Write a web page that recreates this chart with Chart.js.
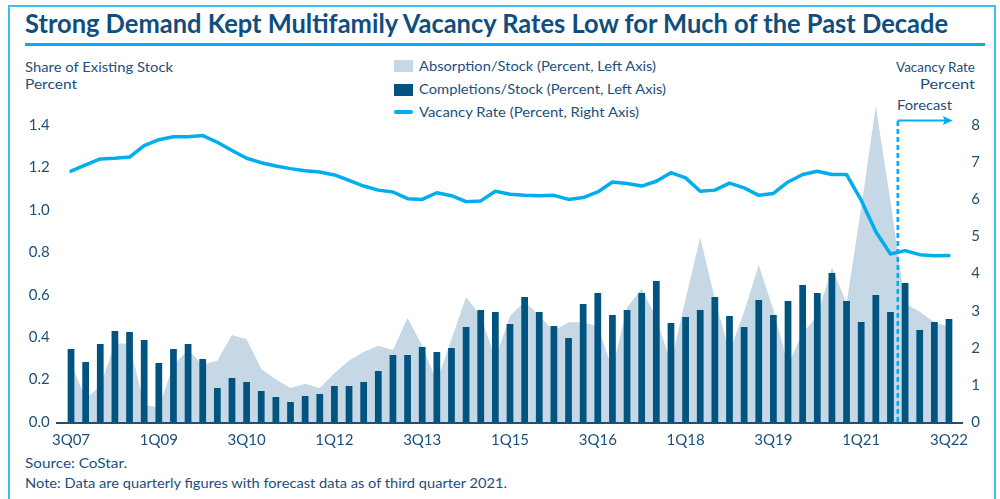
<!DOCTYPE html>
<html><head><meta charset="utf-8">
<script src="https://cdn.jsdelivr.net/npm/chart.js@4"></script>
<style>
html,body{margin:0;padding:0;background:#fff;width:1000px;height:499px;overflow:hidden;font-family:Lato,"Noto Sans",sans-serif;}
#c{position:absolute;left:0;top:0;width:1000px;height:499px;}
.t{position:absolute;white-space:nowrap;color:#1d4f7c;font-size:14px;line-height:16px;height:16px;transform-origin:0 50%;}
#frame{position:absolute;left:8px;top:5px;width:988px;height:520px;border:2.5px solid #3cbdef;border-bottom:none;box-sizing:border-box;}
#rule{position:absolute;left:25px;top:43px;width:960px;height:3px;background:#00aeef;}
#title{font-weight:bold;font-size:26px;line-height:30px;height:30px;color:#0f4e7e;}
.sw{position:absolute;}
</style></head><body>
<div id="frame"></div>
<div id="title" class="t" data-w="923" style="left:25px;top:8px;">Strong Demand Kept Multifamily Vacancy Rates Low for Much of the Past Decade</div>
<div id="rule"></div>
<div class="t" data-w="148" style="left:25px;top:59px;">Share of Existing Stock</div>
<div class="t" data-w="52" style="left:25px;top:76px;">Percent</div>
<div class="t" data-w="79" style="left:896px;top:59px;">Vacancy Rate</div>
<div class="t" data-w="55" style="left:920px;top:76px;">Percent</div>
<div class="t" data-w="55" style="left:897px;top:97px;">Forecast</div>
<div class="sw" style="left:394px;top:60px;width:19px;height:12px;background:#c6d7e6;"></div>
<div class="sw" style="left:394px;top:84px;width:19px;height:12px;background:#00547f;"></div>
<div class="sw" style="left:394px;top:110px;width:19px;height:4px;border-radius:2px;background:#00aeef;"></div>
<div class="t" data-w="237" style="left:419px;top:58px;">Absorption/Stock (Percent, Left Axis)</div>
<div class="t" data-w="247" style="left:419px;top:81px;">Completions/Stock (Percent, Left Axis)</div>
<div class="t" data-w="220" style="left:419px;top:104px;">Vacancy Rate (Percent, Right Axis)</div>
<div class="t" data-w="102" style="left:25px;top:455px;">Source: CoStar.</div>
<div class="t" data-w="482" style="left:25px;top:475px;">Note: Data are quarterly figures with forecast data as of third quarter 2021.</div>
<canvas id="c" width="1000" height="499"></canvas>
<script>
const categories = ['3Q07','4Q07',
 '1Q08','2Q08','3Q08','4Q08','1Q09','2Q09','3Q09','4Q09','1Q10','2Q10','3Q10','4Q10',
 '1Q11','2Q11','3Q11','4Q11','1Q12','2Q12','3Q12','4Q12','1Q13','2Q13','3Q13','4Q13',
 '1Q14','2Q14','3Q14','4Q14','1Q15','2Q15','3Q15','4Q15','1Q16','2Q16','3Q16','4Q16',
 '1Q17','2Q17','3Q17','4Q17','1Q18','2Q18','3Q18','4Q18','1Q19','2Q19','3Q19','4Q19',
 '1Q20','2Q20','3Q20','4Q20','1Q21','2Q21','3Q21','4Q21','1Q22','2Q22','3Q22'];
const tickLabels = ['3Q07','1Q09','3Q10','1Q12','3Q13','1Q15','3Q16','1Q18','3Q19','1Q21','3Q22'];
const completions = [0.344,0.283,0.368,0.429,0.425,0.387,0.278,0.344,0.368,0.297,
 0.160,0.208,0.189,0.146,0.118,0.094,0.123,0.132,0.170,0.170,
 0.189,0.241,0.316,0.316,0.354,0.330,0.349,0.448,0.528,0.519,
 0.462,0.590,0.519,0.453,0.396,0.557,0.608,0.505,0.528,0.608,
 0.665,0.467,0.495,0.528,0.590,0.500,0.448,0.575,0.505,0.571,
 0.646,0.608,0.703,0.571,0.472,0.599,0.519,0.656,0.434,0.472,0.486];
const absorption = [0.28,0.11,0.17,0.37,0.37,0.08,0.07,0.27,0.34,0.27,
 0.29,0.41,0.39,0.25,0.20,0.16,0.18,0.16,0.23,0.29,
 0.33,0.36,0.34,0.49,0.36,0.19,0.39,0.59,0.50,0.30,
 0.50,0.57,0.50,0.43,0.47,0.47,0.45,0.25,0.54,0.63,
 0.49,0.28,0.58,0.87,0.58,0.33,0.52,0.74,0.53,0.27,
 0.42,0.50,0.73,0.56,1.01,1.49,1.04,0.56,0.52,0.47,0.45];
const vacancyRate = [6.76,6.93,7.09,7.11,7.14,7.45,7.61,7.69,7.69,7.72,
 7.54,7.32,7.11,6.99,6.90,6.83,6.77,6.74,6.66,6.51,
 6.36,6.25,6.20,6.02,6.00,6.18,6.10,5.94,5.96,6.22,
 6.14,6.11,6.10,6.11,6.00,6.05,6.20,6.47,6.43,6.36,
 6.49,6.72,6.58,6.22,6.25,6.44,6.31,6.11,6.16,6.47,
 6.67,6.76,6.67,6.67,5.98,5.13,4.53,4.62,4.51,4.48,4.49];
const leftTicks = [0,0.2,0.4,0.6,0.8,1.0,1.2,1.4];
const rightTicks = [0,1,2,3,4,5,6,7,8];
const forecastStart = '3Q21';

document.querySelectorAll('.t[data-w]').forEach(el=>{
  const w = el.getBoundingClientRect().width;
  el.style.transform = 'scaleX(' + (parseFloat(el.dataset.w)/w) + ')';
});

const TXT = '#1d4f7c';
const CYAN = '#00aeef';
const extras = {
  id:'extras',
  afterDatasetsDraw(chart){
    const ctx = chart.ctx, x = chart.scales.x, yL = chart.scales.yL, yR = chart.scales.yR;
    const y0 = yL.getPixelForValue(0);
    ctx.save();
    ctx.strokeStyle = '#1f4e79'; ctx.lineWidth = 2;
    ctx.beginPath(); ctx.moveTo(56, y0+1); ctx.lineTo(963, y0+1); ctx.stroke();
    const fx = x.getPixelForValue(categories.indexOf(forecastStart) + 0.5);
    const fy = yR.getPixelForValue(8.13);
    ctx.strokeStyle = CYAN; ctx.lineWidth = 2.5;
    ctx.setLineDash([5,3]);
    ctx.beginPath(); ctx.moveTo(fx, y0); ctx.lineTo(fx, fy); ctx.stroke();
    ctx.setLineDash([]);
    ctx.lineWidth = 2;
    ctx.beginPath(); ctx.moveTo(fx, fy); ctx.lineTo(fx+50, fy); ctx.stroke();
    ctx.fillStyle = CYAN;
    ctx.beginPath(); ctx.moveTo(fx+55, fy); ctx.lineTo(fx+45, fy-4.5); ctx.lineTo(fx+47, fy); ctx.lineTo(fx+45, fy+4.5); ctx.closePath(); ctx.fill();
    ctx.restore();
  }
};

Chart.defaults.font.family = 'Lato, "Noto Sans", sans-serif';
Chart.defaults.color = TXT;
new Chart(document.getElementById('c'), {
  type:'bar',
  data:{
    labels: categories,
    datasets:[
      {type:'line', label:'Vacancy Rate (Percent, Right Axis)', data:vacancyRate, yAxisID:'yR',
       borderColor:CYAN, borderWidth:3.5, pointRadius:0, tension:0, fill:false,
       borderJoinStyle:'round', borderCapStyle:'round', order:1},
      {type:'bar', label:'Completions/Stock (Percent, Left Axis)', data:completions, yAxisID:'yL',
       backgroundColor:'#00547f', barPercentage:0.46, categoryPercentage:1, order:2},
      {type:'line', label:'Absorption/Stock (Percent, Left Axis)', data:absorption, yAxisID:'yL',
       backgroundColor:'#c6d7e6', borderWidth:0, borderColor:'#c6d7e6', pointRadius:0, tension:0, fill:'origin', order:3}
    ]
  },
  options:{
    responsive:false, animation:false, devicePixelRatio:1,
    layout:{padding:{top:104,left:0,right:0,bottom:0}},
    plugins:{legend:{display:false}, tooltip:{enabled:false}},
    scales:{
      x:{offset:true, grid:{display:false, drawTicks:false}, border:{display:false},
         ticks:{autoSkip:false, maxRotation:0, minRotation:0, padding:9, color:TXT, font:{size:15},
           callback:(v,i)=> tickLabels.includes(categories[i]) ? categories[i] : ''},
         afterFit:s=>{s.height=77;}},
      yL:{position:'left', min:0, max:1.5, grid:{display:false, drawTicks:false}, border:{display:false},
         ticks:{padding:14, color:TXT, font:{size:15}, callback:v=>Number(v).toFixed(1)},
         afterBuildTicks:s=>{s.ticks = leftTicks.map(v=>({value:v}));},
         afterFit:s=>{s.width=63.7;}},
      yR:{position:'right', min:0, max:8.5714, grid:{display:false, drawTicks:false}, border:{display:false},
         ticks:{padding:15, color:TXT, font:{size:15}, callback:v=>String(v)},
         afterBuildTicks:s=>{s.ticks = rightTicks.map(v=>({value:v}));},
         afterFit:s=>{s.width=43.7;}}
    }
  },
  plugins:[extras]
});
</script>
</body></html>
